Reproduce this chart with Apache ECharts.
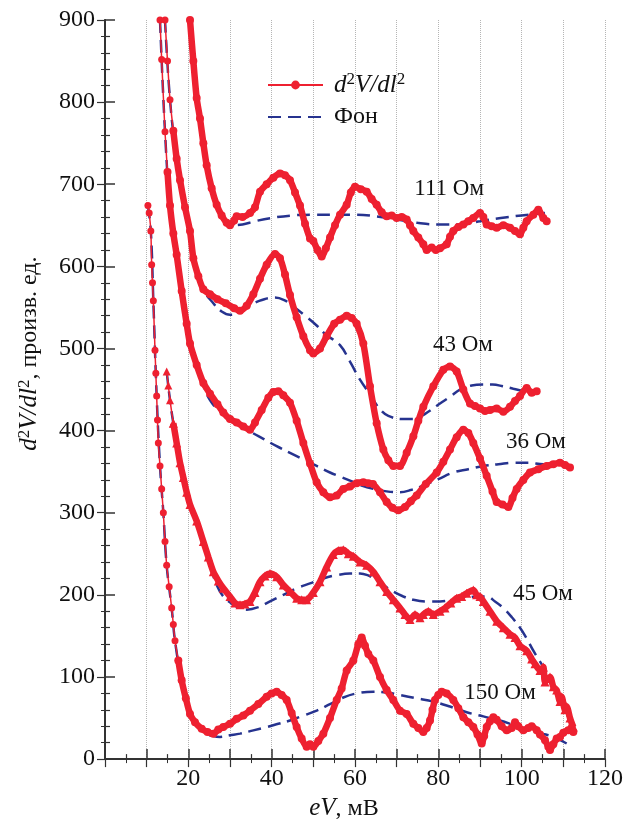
<!DOCTYPE html>
<html>
<head>
<meta charset="utf-8">
<script src="https://cdn.jsdelivr.net/npm/echarts@6/dist/echarts.min.js"></script>
<style>
  html, body { margin: 0; padding: 0; background: #fff; }
  #chart { width: 643px; height: 826px; }
</style>
</head>
<body>
<div id="chart"></div>
<script>
// measured d2V/dI2 curves, [eV (мВ), value]
const red111 = [[20.4,900],[21.2,850],[22,805],[22.8,780],[23.6,750],[24.4,723],[25.6,695],[26.8,675],[28,662],[29.2,653],[30,650],[31,656],[31.6,661],[33,660],[34.8,665],[36,672],[37.2,691],[38.8,700],[40.4,708],[42,713],[43.2,711],[44.4,705],[45.6,690],[46.8,674],[48,652],[49.2,634],[50,631],[51,620],[52,612],[53,622],[54,635],[55.2,650],[56.4,663],[58,675],[59,690],[60,697],[61.4,694],[62.8,691],[64,682],[65.2,675],[66.4,666],[67.6,661],[68.8,662],[70,659],[71.2,660],[72.4,657],[73.2,650],[74,643],[75.2,635],[76.4,627],[77.2,620],[78.4,623],[79.4,620],[80.4,622],[82,627],[82.8,636],[83.6,643],[84.8,648],[86,651],[87.2,655],[88.4,659],[90,665],[90.8,660],[91.6,651],[92.8,649],[94,647],[95.6,650],[97.2,647],[98.4,643],[99.6,639],[100.4,647],[101.2,655],[102.8,663],[104,669],[105.2,659],[106,655]];
const red43 = [[14.4,900],[15,850],[15.6,803],[16.4,765],[17.2,731],[18,705],[19.2,672],[20.4,643],[21.2,610],[22.4,588],[23.6,572],[25.2,566],[27,560],[29,555],[31,549],[32.4,546],[34,552],[35.6,566],[37.2,585],[38.8,602],[40.8,615],[42,610],[43.2,590],[44.4,565],[46,538],[47.6,515],[49.2,498],[50,494],[51.6,500],[53.2,515],[55,530],[56.4,535],[58,540],[59.2,537],[60.4,530],[62,506],[63.6,454],[65.2,409],[66.8,377],[68,364],[69.2,357],[70.8,357],[72.4,373],[74,393],[75.2,412],[76.4,429],[78.8,454],[81.2,474],[82.8,478],[84.4,472],[86,450],[87.6,433],[88.8,430],[90,427],[91.2,424],[92.4,425],[94,427],[95.6,423],[97.2,429],[98.4,436],[99.6,442],[101.2,452],[102.4,446],[103.6,448]];
const red36 = [[13.2,900],[13.6,852],[14.4,764],[15,715],[15.6,674],[16.4,640],[17.2,614],[18.4,570],[19.6,530],[20.4,506],[22,480],[23.6,458],[25.2,445],[27,432],[28.4,422],[30,414],[31.6,410],[33.2,405],[34.8,401],[36,410],[37.6,425],[39.2,440],[40.4,447],[41.6,448],[42.8,443],[44.4,434],[46,412],[47.6,385],[49.2,360],[50.8,337],[52.4,325],[54,319],[55.6,321],[57.2,329],[58.8,332],[60.4,336],[62,337],[63.2,336],[64.3,335],[66,325],[67.6,313],[69,306],[70.4,303],[72,307],[73.4,314],[74.8,321],[77,335],[79.6,349],[81.2,362],[82.8,377],[84.4,392],[86,401],[87.2,397],[88.4,385],[90,366],[91.6,345],[93,326],[94,313],[95.4,310],[96.8,307],[97.8,318],[98.8,329],[100.4,340],[102,349],[104,353],[106,357],[107.6,359],[109.2,361],[110.4,358],[111.6,355]];
const red45 = [[14.8,472],[15.2,455],[15.6,437],[16.4,409],[17.2,385],[18,361],[18.8,343],[19.6,325],[20.4,310],[22,290],[23.6,265],[24.8,246],[26,228],[27.2,217],[28.4,208],[30,198],[31.2,190],[32.4,188],[33.6,189],[34.8,192],[36,203],[37.2,216],[38.4,223],[39.6,226],[41.2,222],[42.8,212],[44.4,204],[46,196],[47.2,194],[48.4,194],[50,203],[51.6,216],[53.2,234],[54.8,249],[56,254],[57.2,255],[58.4,250],[59.6,247],[61.2,240],[62.8,236],[64.4,228],[66,216],[67.6,204],[69.2,194],[70.8,184],[72,176],[73.2,170],[74.4,176],[75.6,172],[76.4,176],[77.6,180],[78.8,176],[80.4,180],[81.6,184],[83,190],[84.4,196],[85.6,198],[86.8,202],[88.4,206],[89.2,200],[90,198],[90.8,192],[92.4,180],[94,168],[95.6,160],[97.2,152],[98.4,148],[99.6,138],[101.2,132],[102.4,122],[103.2,116],[104.4,108],[105.2,112],[105.6,94],[106.8,100],[107.6,88],[108.4,84],[109.2,70],[109.6,76],[110.4,60],[110.8,64],[111.6,50],[112,44],[112.4,39]];
const red150 = [[10.3,674],[10.6,665],[11,643],[11.2,602],[11.4,580],[11.6,558],[12,498],[12.2,470],[12.4,442],[12.6,413],[12.8,385],[13.2,357],[13.6,329],[14,300],[14.4,265],[14.8,236],[15.4,210],[16,184],[16.4,164],[16.8,144],[17.6,120],[18.4,96],[19.4,74],[20.4,55],[21.6,45],[23.2,37],[24.6,33],[26,31],[27.2,36],[28.4,39],[30,43],[31.6,49],[33.2,53],[34.8,59],[36.8,67],[38.8,76],[40,80],[41.2,82],[42.4,78],[43.6,72],[44.8,56],[46,39],[47.2,25],[48.4,15],[49.2,18],[50,15],[51.2,22],[52.4,31],[54,50],[55.6,72],[56.8,86],[58,108],[59.6,120],[60.8,140],[61.6,148],[62.4,138],[63.2,128],[64.4,120],[66,100],[67.6,84],[69.2,72],[70.8,59],[72.4,55],[74,43],[75.2,38],[76.4,33],[77.2,38],[78,47],[78.6,60],[79.2,72],[80,78],[80.8,82],[82,80],[83.6,72],[84.8,62],[86,51],[87.2,45],[88.4,39],[89.4,30],[90.4,19],[91,28],[91.6,39],[92.4,46],[93.2,51],[94,48],[95.2,40],[96.4,35],[97.6,38],[98.4,45],[99.2,40],[100.4,35],[101.6,38],[102.4,40],[103.6,35],[104.4,30],[105.6,23],[106.4,15],[106.8,11],[107.6,18],[108.4,25],[109.2,27],[110,32],[111.2,35],[112.4,33]];

// background (Фон) curves
const bg111 = [[20.4,900],[22,805],[24.4,723],[26.8,675],[29,655],[30,650],[33,651],[36,655],[40,659],[45,662],[50,663],[55,663],[60,663],[65,661],[70,657],[75,653],[80,651],[85,651],[90,655],[95,659],[100,662],[105.6,665]];
const bg43 = [[14.4,900],[15.6,803],[17.2,731],[19.2,672],[21.2,612],[23.6,572],[26,555],[28,545],[30,541],[32,543],[34,550],[37,558],[40.8,562],[43,559],[45,552],[48,540],[50.8,528],[53,517],[56.4,504],[58.8,484],[61.2,462],[63.6,444],[66,426],[68,418],[71.5,414],[74,414],[77,421],[80.4,433],[83,442],[85.2,450],[88,455],[90.7,456],[93,456],[95.5,454],[98,451],[100.4,448]];
const bg36 = [[13.2,900],[14.4,764],[15.6,674],[17.2,614],[18.4,570],[20.4,506],[22,478],[23.6,455],[25.2,437],[27,426],[28.4,421],[30,415],[32.4,407],[34.8,399],[38,390],[41.2,381],[44.4,373],[47.6,365],[50.8,357],[54,349],[56.4,344],[58.8,339],[61.6,333],[64.4,329],[67.6,326],[70.8,325],[73.6,328],[76.4,333],[80,341],[83.6,349],[87.2,353],[90.8,357],[94.4,359],[98,361],[101.6,361],[105.2,359],[110,359]];
const bg45 = [[14.8,472],[15.6,437],[16.4,409],[18,361],[19.6,327],[20.4,310],[22,288],[23.6,262],[25.2,236],[26.8,212],[28.4,198],[30.8,188],[32.4,184],[34,182],[36.8,185],[39.6,192],[42.8,200],[46,208],[49.2,214],[52.4,220],[55.6,224],[58.8,226],[61.2,226],[63,224],[64.4,220],[66.8,212],[69.2,204],[71.6,198],[74,194],[77.2,192],[80.4,192],[83.6,194],[86.8,196],[89.2,198],[91.6,198],[93.6,192],[95.6,184],[97.6,173],[99.6,160],[101.2,147],[102.8,132],[104,122],[105.2,112],[106.8,97],[108.4,80],[110,63],[111.6,47]];
const bg150 = [[10.3,674],[11,643],[11.6,558],[12.4,442],[13.2,357],[14,300],[14.8,236],[16,184],[16.8,144],[18.4,96],[20.4,55],[22.4,40],[24.4,31],[26,28],[27.6,27],[30,29],[32.4,31],[35.6,35],[38.8,39],[41.6,43],[44.4,47],[47.6,53],[50.8,59],[54,67],[57.2,75],[60.4,80],[64.4,82],[67.6,81],[70.8,78],[74.8,74],[78.8,70],[82.8,64],[86.8,57],[90.8,52],[94.8,47],[98.4,41],[102,35],[105,31],[107.6,27],[110.8,19]];

// curve labels
const annoText = ['111 Ом', '43 Ом', '36 Ом', '45 Ом', '150 Ом'];
const annoX = [82.6, 85.9, 103.4, 105.1, 94.8];
const annoY = [694, 504, 386, 201, 81];

const xTicks = [20, 40, 60, 80, 100, 120];

const RED = '#ee2030';
const BLUE = '#26338f';
const FONT = "'Liberation Serif', 'Times New Roman', Times, serif";
const MEAS = 'd²V/dl²';
const BG = 'Фон';

function bgSeries(data) {
  return {
    name: BG, type: 'line', data: data, symbol: 'none', smooth: 0.4,
    lineStyle: { color: BLUE, width: 2.5, type: [13, 7] },
    itemStyle: { color: BLUE },
    z: 2, animation: false, silent: true
  };
}
function measSeries(data, sym, size, width) {
  return {
    name: MEAS, type: 'line', data: data, symbol: sym, symbolSize: size,
    showAllSymbol: true, smooth: 0.25,
    itemStyle: { color: RED },
    lineStyle: { color: RED, width: width },
    z: 3, animation: false, silent: true
  };
}
// steep starts are drawn as sparse dots on a thin line, the rest as a dense band
function measured(data, split, sym, size) {
  if (!split) return [measSeries(data, sym, size, 6.5)];
  return [
    measSeries(data.slice(0, split + 1), sym, size - 1, 1.5),
    measSeries(data.slice(split), sym, size, 6.5)
  ];
}

const rich = {
  i: { fontStyle: 'italic', fontSize: 25, fontFamily: FONT, color: '#111' },
  s: { fontSize: 17, fontFamily: FONT, color: '#111', verticalAlign: 'top', padding: [0, 0, 10, 0] },
  n: { fontSize: 24, fontFamily: FONT, color: '#111' }
};

const chart = echarts.init(document.getElementById('chart'));

const axisLineStyle = { color: '#333', width: 2 };

chart.setOption({
  backgroundColor: '#fff',
  animation: false,
  textStyle: { fontFamily: FONT },
  grid: { left: 105, right: 38, top: 20, bottom: 60 },
  legend: {
    orient: 'vertical', left: 262, top: 66,
    itemWidth: 55, itemHeight: 11, itemGap: 4,
    data: [MEAS, { name: BG, itemStyle: { opacity: 0 } }],
    lineStyle: { width: 2 },
    textStyle: { fontFamily: FONT, fontSize: 24, color: '#111', lineHeight: 28, padding: [0, 0, 0, 6], rich: rich },
    formatter: function (name) {
      return name === MEAS ? '{i|d}{s|2}{i|V/dl}{s|2}' : '{n|Фон}';
    }
  },
  xAxis: [{
    type: 'value', min: 0, max: 120, interval: 10, position: 'bottom',
    name: '{i|eV}{n|, мВ}', nameLocation: 'middle', nameGap: 36,
    nameTextStyle: { rich: rich, padding: [0, 22, 0, 0] },
    axisLine: { lineStyle: axisLineStyle },
    axisTick: { inside: true, length: 10, lineStyle: { color: '#333', width: 1.5 } },
    minorTick: { show: true, splitNumber: 2, length: 5, lineStyle: { color: '#333', width: 1.2 } },
    axisLabel: {
      fontFamily: FONT, fontSize: 24, color: '#111', margin: 8,
      formatter: function (v) { return xTicks.indexOf(v) >= 0 ? String(v) : ''; }
    },
    splitLine: { show: true, lineStyle: { color: '#b5b5b5', type: 'dotted', width: 1 } }
  }, {
    type: 'value', min: 0, max: 120, interval: 10, position: 'top',
    axisLine: { show: true, lineStyle: { color: '#333', width: 1.5 } },
    axisTick: { inside: true, length: 8, lineStyle: { color: '#333', width: 1.2 } },
    minorTick: { show: true, splitNumber: 2, length: 4, lineStyle: { color: '#333' } },
    axisLabel: { show: false },
    splitLine: { show: false }
  }],
  yAxis: [{
    type: 'value', min: 0, max: 900, interval: 100, position: 'left',
    name: '{i|d}{s|2}{i|V/dl}{s|2}{n|, произв. ед.}', nameLocation: 'middle', nameRotate: 90, nameGap: 62,
    nameTextStyle: { rich: rich, padding: [0, 0, 0, 72] },
    axisLine: { show: true, lineStyle: axisLineStyle },
    axisTick: { inside: true, length: 10, lineStyle: { color: '#333', width: 1.5 } },
    minorTick: { show: true, splitNumber: 5, length: 5, lineStyle: { color: '#333', width: 1.2 } },
    axisLabel: { fontFamily: FONT, fontSize: 24, color: '#111', margin: 10 },
    splitLine: { show: false }
  }, {
    type: 'value', min: 0, max: 900, interval: 100, position: 'right',
    axisLine: { show: true, lineStyle: { color: '#333', width: 1.5 } },
    axisTick: { inside: true, length: 8, lineStyle: { color: '#333', width: 1.2 } },
    minorTick: { show: true, splitNumber: 5, length: 4, lineStyle: { color: '#333' } },
    axisLabel: { show: false },
    splitLine: { show: false }
  }],
  series: [
    bgSeries(bg111), bgSeries(bg43), bgSeries(bg36), bgSeries(bg45), bgSeries(bg150)
  ].concat(
    measured(red111, 0, 'circle', 8),
    measured(red43, 3, 'circle', 8),
    measured(red36, 3, 'circle', 8),
    measured(red45, 3, 'triangle', 9),
    measured(red150, 20, 'circle', 8),
    [{
      name: 'labels', type: 'scatter', symbolSize: 0, silent: true, z: 5,
      itemStyle: { opacity: 1 },
      data: annoText.map(function (t, i) { return { value: [annoX[i], annoY[i]], name: t }; }),
      label: {
        show: true, position: [0, 0], align: 'center', verticalAlign: 'middle', formatter: '{b}',
        fontFamily: FONT, fontSize: 23, color: '#111', opacity: 1,
        textBorderWidth: 0
      }
    }]
  )
});
</script>
</body>
</html>
